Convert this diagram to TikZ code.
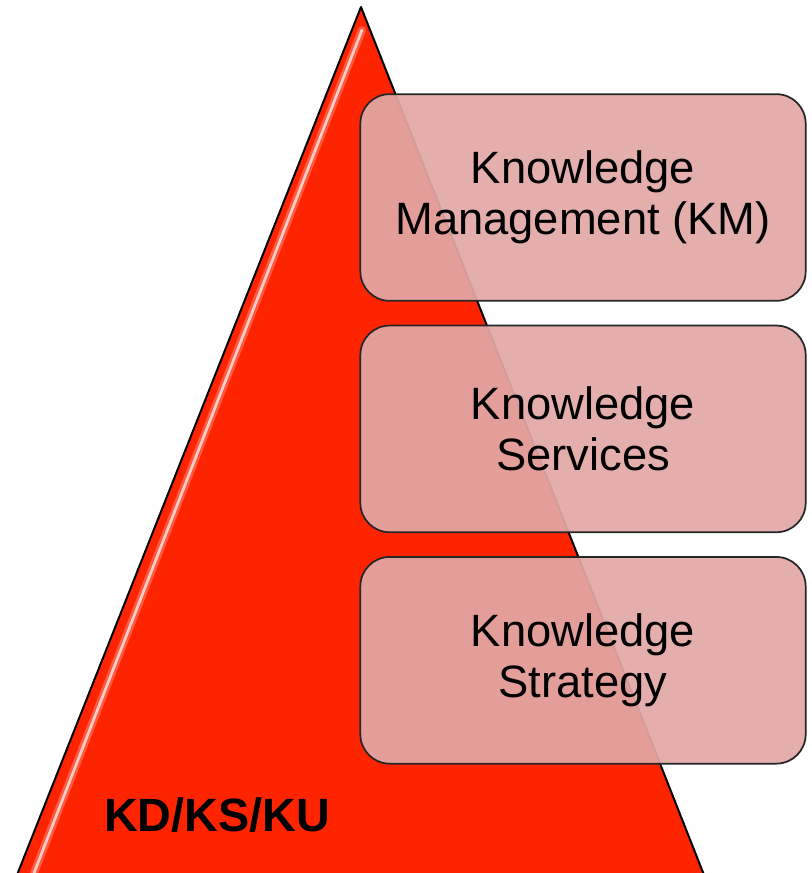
\documentclass[tikz,border=0pt]{standalone}
\usepackage{fontspec}
\setmainfont{Liberation Sans}
\usetikzlibrary{positioning}
\definecolor{pyrred}{RGB}{255,36,0}
\definecolor{boxpink}{RGB}{226,168,166}

\begin{document}
\begin{tikzpicture}[x=0.75pt,y=-0.75pt,node distance=17.25pt,
  layer/.style={draw=black!85,line width=1.3pt,rounded corners=22pt,fill=boxpink,fill opacity=0.93,text opacity=1,
    align=center,minimum width=334pt,minimum height=155pt,font=\fontsize{34}{38}\selectfont},
  gloss/.style={white,line width=2pt,opacity=0.7,line cap=round}]
  \useasboundingbox (0,0) rectangle (811,873);
  \clip (0,0) rectangle (811,873);
  % pyramid
  \coordinate (apex) at (361,7);
  \coordinate (bl) at (15,880);
  \coordinate (br) at (706,880);
  \draw[fill=pyrred,line width=1.5pt,line join=round] (apex) -- (br) -- (bl) -- cycle;
  \coordinate (gtop) at (362,30);
  \coordinate (gbot) at (34,873);
  \draw[gloss,line width=6pt,opacity=0.25] (gtop) -- (gbot);
  \draw[gloss] (gtop) -- (gbot);
  % layers
  \node[layer] (km) at (583,197.5) {Knowledge\\Management (KM)};
  \node[layer,below=of km] (ks) {Knowledge\\Services};
  \node[layer,below=of ks] (kst) {Knowledge\\Strategy};
  \node[font=\bfseries\fontsize{35}{40}\selectfont] (kd) at (217,815) {KD/KS/KU};
\end{tikzpicture}
\end{document}
